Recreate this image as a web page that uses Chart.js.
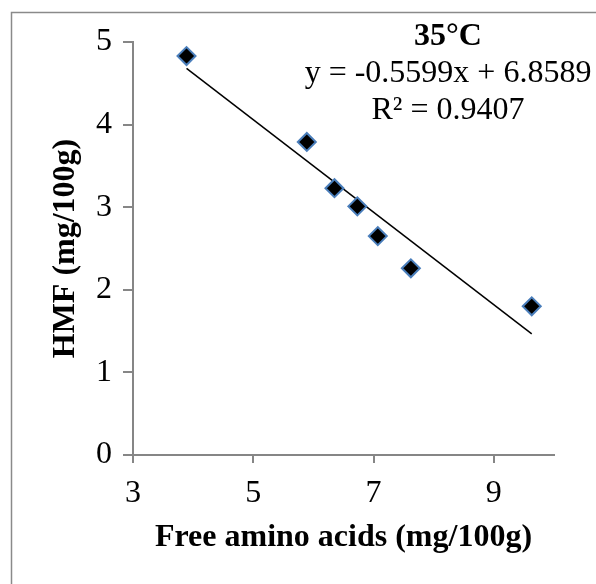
<!DOCTYPE html>
<html>
<head>
<meta charset="utf-8">
<script src="https://cdn.jsdelivr.net/npm/chart.js@4/dist/chart.umd.min.js"></script>
<style>
    html, body { margin: 0; padding: 0; background: #ffffff; }
    #wrap { width: 596px; height: 584px; position: relative; }
</style>
</head>
<body>
<div id="wrap"><canvas id="hmf-chart"></canvas></div>
<script>
// values
const aminoAcids = [3.89, 5.89, 6.35, 6.73, 7.07, 7.62, 9.63];
const hmfValues = [4.83, 3.79, 3.23, 3.01, 2.65, 2.26, 1.80];
const xTicks = [3, 5, 7, 9];
const yTicks = [0, 1, 2, 3, 4, 5];

const slope = -0.5599;
const intercept = 6.8589;
const rSquared = 0.9407;
const panelTitle = "35°C";

const serif = '"Liberation Serif", "Times New Roman", serif';
const axisGray = "#868686";
const fontSize = 32;

const points = aminoAcids.map(function (x, i) {
    return { x: x, y: hmfValues[i] };
});

const xMin = Math.min.apply(null, aminoAcids);
const xMax = Math.max.apply(null, aminoAcids);
const trend = [
    { x: xMin, y: slope * xMin + intercept },
    { x: xMax, y: slope * xMax + intercept },
];

// outer frame + equation text
const extras = {
    id: "extras",
    beforeDraw: function (chart) {
        const c = chart.ctx;
        c.save();
        c.strokeStyle = "#8a8a8a";
        c.lineWidth = 1.5;
        c.strokeRect(11.5, 12.5, 700, 700);
        c.restore();
    },
    afterDraw: function (chart) {
        const c = chart.ctx;
        c.save();
        c.fillStyle = "#000000";
        c.textAlign = "center";
        c.textBaseline = "alphabetic";
        c.font = "bold " + fontSize + "px " + serif;
        c.fillText(panelTitle, 448, 45);
        c.font = fontSize + "px " + serif;
        c.fillText("y = " + slope.toFixed(4) + "x + " + intercept.toFixed(4), 448, 82);
        c.fillText("R² = " + rSquared.toFixed(4), 448, 119);
        c.restore();
    },
};

new Chart(document.getElementById("hmf-chart"), {
    type: "scatter",
    data: {
        datasets: [
            {
                label: "HMF",
                data: points,
                pointStyle: "rectRot",
                pointRadius: 9,
                pointHoverRadius: 9,
                backgroundColor: "#000000",
                borderColor: "#4a7ebb",
                borderWidth: 2,
                order: 1,
            },
            {
                label: "Linear",
                type: "line",
                data: trend,
                borderColor: "#000000",
                borderWidth: 1.5,
                pointRadius: 0,
                fill: false,
                order: 2,
            },
        ],
    },
    options: {
        responsive: true,
        maintainAspectRatio: false,
        animation: false,
        events: [],
        layout: {
            padding: { left: 0, top: 42, right: 42, bottom: 0 },
        },
        scales: {
            x: {
                type: "linear",
                min: 3,
                max: 10,
                afterBuildTicks: function (scale) {
                    scale.ticks = xTicks.map(function (v) { return { value: v }; });
                },
                afterFit: function (scale) {
                    scale.height = 129;
                },
                grid: {
                    drawOnChartArea: false,
                    drawTicks: true,
                    tickLength: 8,
                    color: axisGray,
                    lineWidth: 2,
                },
                border: { color: axisGray, width: 2 },
                ticks: {
                    color: "#000000",
                    padding: 11,
                    font: { family: serif, size: fontSize },
                },
                title: {
                    display: true,
                    text: "Free amino acids (mg/100g)",
                    color: "#000000",
                    font: { family: serif, size: fontSize, weight: "bold" },
                    padding: { top: 0, bottom: 27 },
                },
            },
            y: {
                min: 0,
                max: 5,
                afterBuildTicks: function (scale) {
                    scale.ticks = yTicks.map(function (v) { return { value: v }; });
                },
                afterFit: function (scale) {
                    scale.width = 133;
                },
                grid: {
                    drawOnChartArea: false,
                    drawTicks: true,
                    tickLength: 10,
                    color: axisGray,
                    lineWidth: 2,
                },
                border: { color: axisGray, width: 2 },
                ticks: {
                    color: "#000000",
                    padding: 11,
                    font: { family: serif, size: fontSize },
                },
                title: {
                    display: true,
                    text: "HMF (mg/100g)",
                    color: "#000000",
                    font: { family: serif, size: fontSize, weight: "bold" },
                    padding: { top: 47, bottom: 0 },
                },
            },
        },
        plugins: {
            legend: { display: false },
            tooltip: { enabled: false },
        },
    },
    plugins: [extras],
});
</script>
</body>
</html>
